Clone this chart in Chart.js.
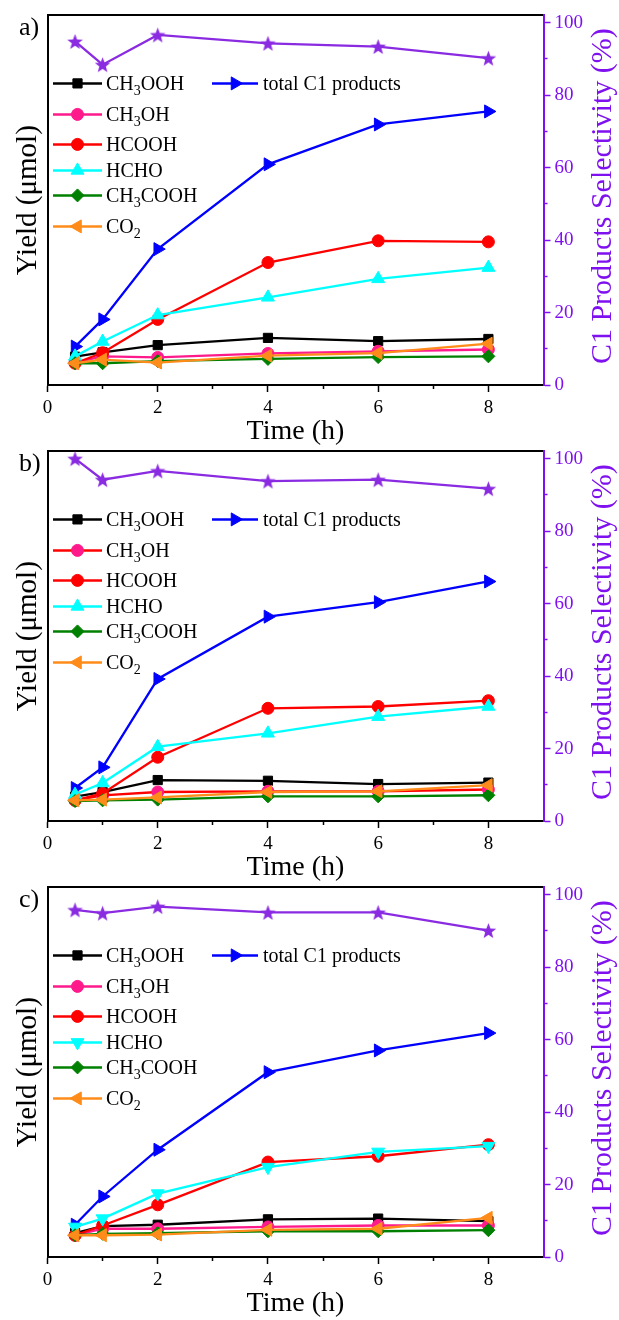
<!DOCTYPE html>
<html>
<head>
<meta charset="utf-8">
<script src="https://cdn.jsdelivr.net/npm/chart.js@4.4.1/dist/chart.umd.min.js"></script>
<style>
  html, body { margin: 0; padding: 0; background: #fff; overflow: hidden; }
  body { width: 619px; height: 1320px; position: relative; }
  canvas.panel { position: absolute; left: 0; }
</style>
</head>
<body>
<canvas class="panel" id="panelA" width="619" height="450" style="top:0px"></canvas>
<canvas class="panel" id="panelB" width="619" height="450" style="top:436px"></canvas>
<canvas class="panel" id="panelC" width="619" height="450" style="top:872px"></canvas>
<script>
// ---- sampling times (h) and axis ticks ----
const times = [0.5, 1, 2, 4, 6, 8];
const xTickValues = [0, 2, 4, 6, 8];
const xMinorTickValues = [1, 3, 5, 7];
const selTickValues = [0, 20, 40, 60, 80, 100];
const selMinorTickValues = [10, 30, 50, 70, 90];

// ---- series names ----
const seriesNames = ['CH₃OOH', 'CH₃OH', 'HCOOH', 'HCHO', 'CH₃COOH', 'CO₂', 'total C1 products'];

// ---- panel a) yields (µmol) and C1 selectivity (%) ----
const a_CH3OOH   = [7.8, 9.0, 11.0, 13.0, 12.1, 12.7];
const a_CH3OH    = [6.2, 7.9, 7.6, 8.7, 9.3, 9.8];
const a_HCOOH    = [6.0, 8.9, 18.1, 33.8, 39.8, 39.5];
const a_HCHO     = [7.9, 12.0, 19.3, 24.2, 29.3, 32.4];
const a_CH3COOH  = [6.0, 6.0, 6.6, 7.2, 7.7, 7.9];
const a_CO2      = [6.0, 7.0, 6.2, 8.1, 8.8, 11.4];
const a_total    = [10.6, 18.1, 37.5, 60.9, 71.9, 75.5];
const a_selectivity = [94.8, 88.4, 96.6, 94.3, 93.4, 90.2];

// ---- panel b) ----
const b_CH3OOH   = [6.7, 8.0, 11.3, 11.1, 10.2, 10.6];
const b_CH3OH    = [5.7, 7.1, 8.0, 8.2, 8.2, 8.7];
const b_HCOOH    = [5.7, 7.6, 17.6, 31.1, 31.6, 33.2];
const b_HCHO     = [7.3, 10.5, 20.5, 24.2, 28.8, 31.6];
const b_CH3COOH  = [5.5, 5.7, 5.9, 6.8, 6.8, 7.1];
const b_CO2      = [5.7, 5.9, 6.5, 8.0, 8.2, 9.9];
const b_total    = [9.1, 14.8, 39.2, 56.4, 60.4, 66.1];
const b_selectivity = [100, 94.2, 96.6, 93.8, 94.2, 91.7];

// ---- panel c) ----
const c_CH3OOH   = [6.6, 8.5, 8.9, 10.4, 10.6, 9.9];
const c_CH3OH    = [6.0, 7.8, 7.8, 8.3, 8.7, 8.7];
const c_HCOOH    = [6.0, 8.7, 14.4, 26.2, 27.8, 31.0];
const c_HCHO     = [8.3, 10.6, 17.5, 24.8, 29.0, 30.6];
const c_CH3COOH  = [6.0, 6.4, 6.6, 7.1, 7.1, 7.4];
const c_CO2      = [6.0, 6.0, 6.2, 7.5, 7.8, 10.8];
const c_total    = [8.9, 16.7, 29.6, 51.0, 57.0, 61.8];
const c_selectivity = [95.8, 94.9, 96.7, 95.1, 95.1, 90.1];

// ---- styling ----
const SERIF = '"Liberation Serif", "Times New Roman", serif';
const PURPLE_AXIS = '#7F10F0';
const PURPLE_MARK = '#8A2BE2';
const COLORS = {
  black: '#000000', pink: '#FF1A8C', red: '#FF0000', cyan: '#00FFFF',
  green: '#008000', orange: '#FF8C1A', blue: '#0000FF'
};
const CANVAS_W = 619, CANVAS_H = 450;
const PLOT_TOP = 15, PLOT_BOTTOM = 385, PLOT_LEFT = 47.5, PLOT_RIGHT = 543.5;

// five-pointed star used as the selectivity marker
function makeStar(color, r) {
  const s = Math.ceil(r * 2) + 2;
  const c = document.createElement('canvas');
  c.width = s; c.height = s;
  const g = c.getContext('2d');
  g.fillStyle = color;
  g.beginPath();
  for (let i = 0; i < 10; i++) {
    const rad = i % 2 ? r * 0.42 : r;
    const ang = -Math.PI / 2 + i * Math.PI / 5;
    g.lineTo(s / 2 + rad * Math.cos(ang), s / 2 + rad * Math.sin(ang) + 0.8);
  }
  g.closePath();
  g.fill();
  return c;
}
const starMarker = makeStar(PURPLE_MARK, 8.2);

function toPoints(values) {
  return values.map((v, i) => ({ x: times[i], y: v }));
}

function series(label, values, line, fill, style, rotation, radius, order) {
  return {
    label, data: toPoints(values), yAxisID: 'y',
    borderColor: line, backgroundColor: fill, borderWidth: 2.3,
    pointStyle: style, pointRotation: rotation, pointRadius: radius,
    pointBackgroundColor: fill, pointBorderColor: fill, pointBorderWidth: 1,
    tension: 0, clip: false, order
  };
}

// subscript digits are drawn smaller and lowered
const SUBS = { '₀': '0', '₁': '1', '₂': '2', '₃': '3', '₄': '4', '₅': '5', '₆': '6', '₇': '7', '₈': '8', '₉': '9' };
function drawFormula(ctx, text, x, y, size) {
  const runs = [];
  for (const ch of text) {
    const sub = ch in SUBS;
    const c = sub ? SUBS[ch] : ch;
    if (runs.length && runs[runs.length - 1].sub === sub) runs[runs.length - 1].t += c;
    else runs.push({ sub, t: c });
  }
  let cx = x;
  for (const r of runs) {
    const fs = r.sub ? Math.round(size * 0.68) : size;
    ctx.font = fs + 'px ' + SERIF;
    ctx.fillText(r.t, cx, r.sub ? y + size * 0.34 : y);
    cx += ctx.measureText(r.t).width;
  }
}

const panelDecor = {
  id: 'panelDecor',
  afterDatasetsDraw(chart, args, opts) {
    const { ctx, chartArea } = chart;
    ctx.save();
    ctx.textBaseline = 'middle';
    ctx.textAlign = 'left';

    // legend: six rows on the left, total C1 beside the first row
    const rowOffsets = [68, 99, 129, 155, 180, 211];
    chart.data.datasets.forEach((ds, i) => {
      if (ds.yAxisID !== 'y') return;
      const col = i < 6 ? 0 : 1;
      const row = i < 6 ? i : 0;
      const y = chartArea.top + rowOffsets[row];
      const x0 = col === 0 ? 53 : 212;
      const x1 = col === 0 ? 102 : 258;
      const tx = col === 0 ? 106 : 263;
      ctx.strokeStyle = ds.borderColor;
      ctx.lineWidth = 2.5;
      ctx.beginPath();
      ctx.moveTo(x0, y); ctx.lineTo(x1, y);
      ctx.stroke();
      ctx.fillStyle = ds.pointBackgroundColor;
      ctx.strokeStyle = ds.pointBorderColor;
      ctx.lineWidth = 1;
      Chart.helpers.drawPoint(ctx, {
        pointStyle: ds.pointStyle, rotation: ds.pointRotation,
        radius: ds.pointRadius, borderWidth: 1
      }, (x0 + x1) / 2, y);
      ctx.fillStyle = '#000';
      drawFormula(ctx, ds.label, tx, y + 1, 20);
    });

    // panel letter
    ctx.fillStyle = '#000';
    ctx.font = '26px ' + SERIF;
    ctx.fillText(opts.letter, 19, chartArea.top + 13);

    // right-hand axis title, reading bottom to top
    ctx.save();
    ctx.translate(603, (chartArea.top + chartArea.bottom) / 2 - 4);
    ctx.rotate(-Math.PI / 2);
    ctx.textAlign = 'center';
    ctx.fillStyle = PURPLE_AXIS;
    ctx.font = '30px ' + SERIF;
    ctx.fillText(opts.rightTitle, 0, 0);
    ctx.restore();

    ctx.restore();
  }
};

function fixedTicks(values) {
  return scale => { scale.ticks = values.map(v => ({ value: v })); };
}

function buildPanel(canvasId, letter, v, hchoRotation, ch3ohLine) {
  const datasets = [
    series(seriesNames[0], v[0], COLORS.black, COLORS.black, 'rect', 0, 6.5, 7),
    series(seriesNames[1], v[1], ch3ohLine, COLORS.pink, 'circle', 0, 6, 6),
    series(seriesNames[2], v[2], COLORS.red, COLORS.red, 'circle', 0, 6, 5),
    series(seriesNames[3], v[3], COLORS.cyan, COLORS.cyan, 'triangle', hchoRotation, 7.5, 4),
    series(seriesNames[4], v[4], COLORS.green, COLORS.green, 'rectRot', 0, 6.5, 3),
    series(seriesNames[5], v[5], COLORS.orange, COLORS.orange, 'triangle', -90, 7.5, 2),
    series(seriesNames[6], v[6], COLORS.blue, COLORS.blue, 'triangle', 90, 7.5, 8),
    {
      label: 'C1 Products Selectivity', data: toPoints(v[7]), yAxisID: 'y1',
      borderColor: PURPLE_MARK, borderWidth: 2.3, pointStyle: starMarker,
      pointRadius: 8, tension: 0, clip: false, order: 1
    }
  ];

  const tickFont = { family: SERIF, size: 19 };
  return new Chart(document.getElementById(canvasId), {
    type: 'line',
    data: { datasets },
    plugins: [panelDecor],
    options: {
      responsive: false,
      animation: false,
      events: [],
      devicePixelRatio: 1,
      layout: { padding: { top: PLOT_TOP, left: 0, right: 0, bottom: 0 } },
      plugins: {
        legend: { display: false },
        tooltip: { enabled: false },
        panelDecor: { letter, rightTitle: 'C1 Products Selectivity (%)' }
      },
      scales: {
        x: {
          type: 'linear', position: 'bottom', min: 0, max: 9, weight: 1,
          afterBuildTicks: fixedTicks(xTickValues),
          ticks: { font: tickFont, color: '#000', padding: 5, maxRotation: 0, autoSkip: false },
          grid: { drawOnChartArea: false, tickLength: 7, tickColor: '#000', tickWidth: 1.5 },
          border: { color: '#000', width: 2 },
          title: { display: true, text: 'Time (h)', color: '#000',
                   font: { family: SERIF, size: 28 }, padding: { top: 0, bottom: 2 } },
          afterFit: s => { s.height = CANVAS_H - PLOT_BOTTOM; }
        },
        xMinor: {
          type: 'linear', position: 'bottom', min: 0, max: 9, weight: 0,
          afterBuildTicks: fixedTicks(xMinorTickValues),
          ticks: { display: false },
          grid: { drawOnChartArea: false, tickLength: 4, tickColor: '#000', tickWidth: 1.5 },
          border: { display: false },
          afterFit: s => { s.height = 0; }
        },
        xTop: {
          type: 'linear', position: 'top', min: 0, max: 9,
          ticks: { display: false },
          grid: { display: false },
          border: { color: '#000', width: 2 },
          afterFit: s => { s.height = 0; }
        },
        y: {
          type: 'linear', position: 'left', min: 0, max: 102,
          ticks: { display: false },
          grid: { display: false },
          border: { color: '#000', width: 2 },
          title: { display: true, text: 'Yield (μmol)', color: '#000',
                   font: { family: SERIF, size: 29 }, padding: { top: 11, bottom: 0 } },
          afterFit: s => { s.width = PLOT_LEFT; }
        },
        y1: {
          type: 'linear', position: 'right', min: 0, max: 102, weight: 1,
          afterBuildTicks: fixedTicks(selTickValues),
          ticks: { font: tickFont, color: PURPLE_AXIS, padding: 4 },
          grid: { drawOnChartArea: false, tickLength: 7, tickColor: PURPLE_AXIS, tickWidth: 1.5 },
          border: { color: PURPLE_AXIS, width: 2 },
          afterFit: s => { s.width = CANVAS_W - PLOT_RIGHT; }
        },
        y1Minor: {
          type: 'linear', position: 'right', min: 0, max: 102, weight: 0,
          afterBuildTicks: fixedTicks(selMinorTickValues),
          ticks: { display: false },
          grid: { drawOnChartArea: false, tickLength: 4, tickColor: PURPLE_AXIS, tickWidth: 1.5 },
          border: { display: false },
          afterFit: s => { s.width = 0; }
        }
      }
    }
  });
}

buildPanel('panelA', 'a)',
  [a_CH3OOH, a_CH3OH, a_HCOOH, a_HCHO, a_CH3COOH, a_CO2, a_total, a_selectivity], 0, COLORS.pink);
buildPanel('panelB', 'b)',
  [b_CH3OOH, b_CH3OH, b_HCOOH, b_HCHO, b_CH3COOH, b_CO2, b_total, b_selectivity], 0, COLORS.red);
buildPanel('panelC', 'c)',
  [c_CH3OOH, c_CH3OH, c_HCOOH, c_HCHO, c_CH3COOH, c_CO2, c_total, c_selectivity], 180, COLORS.pink);
</script>
</body>
</html>
